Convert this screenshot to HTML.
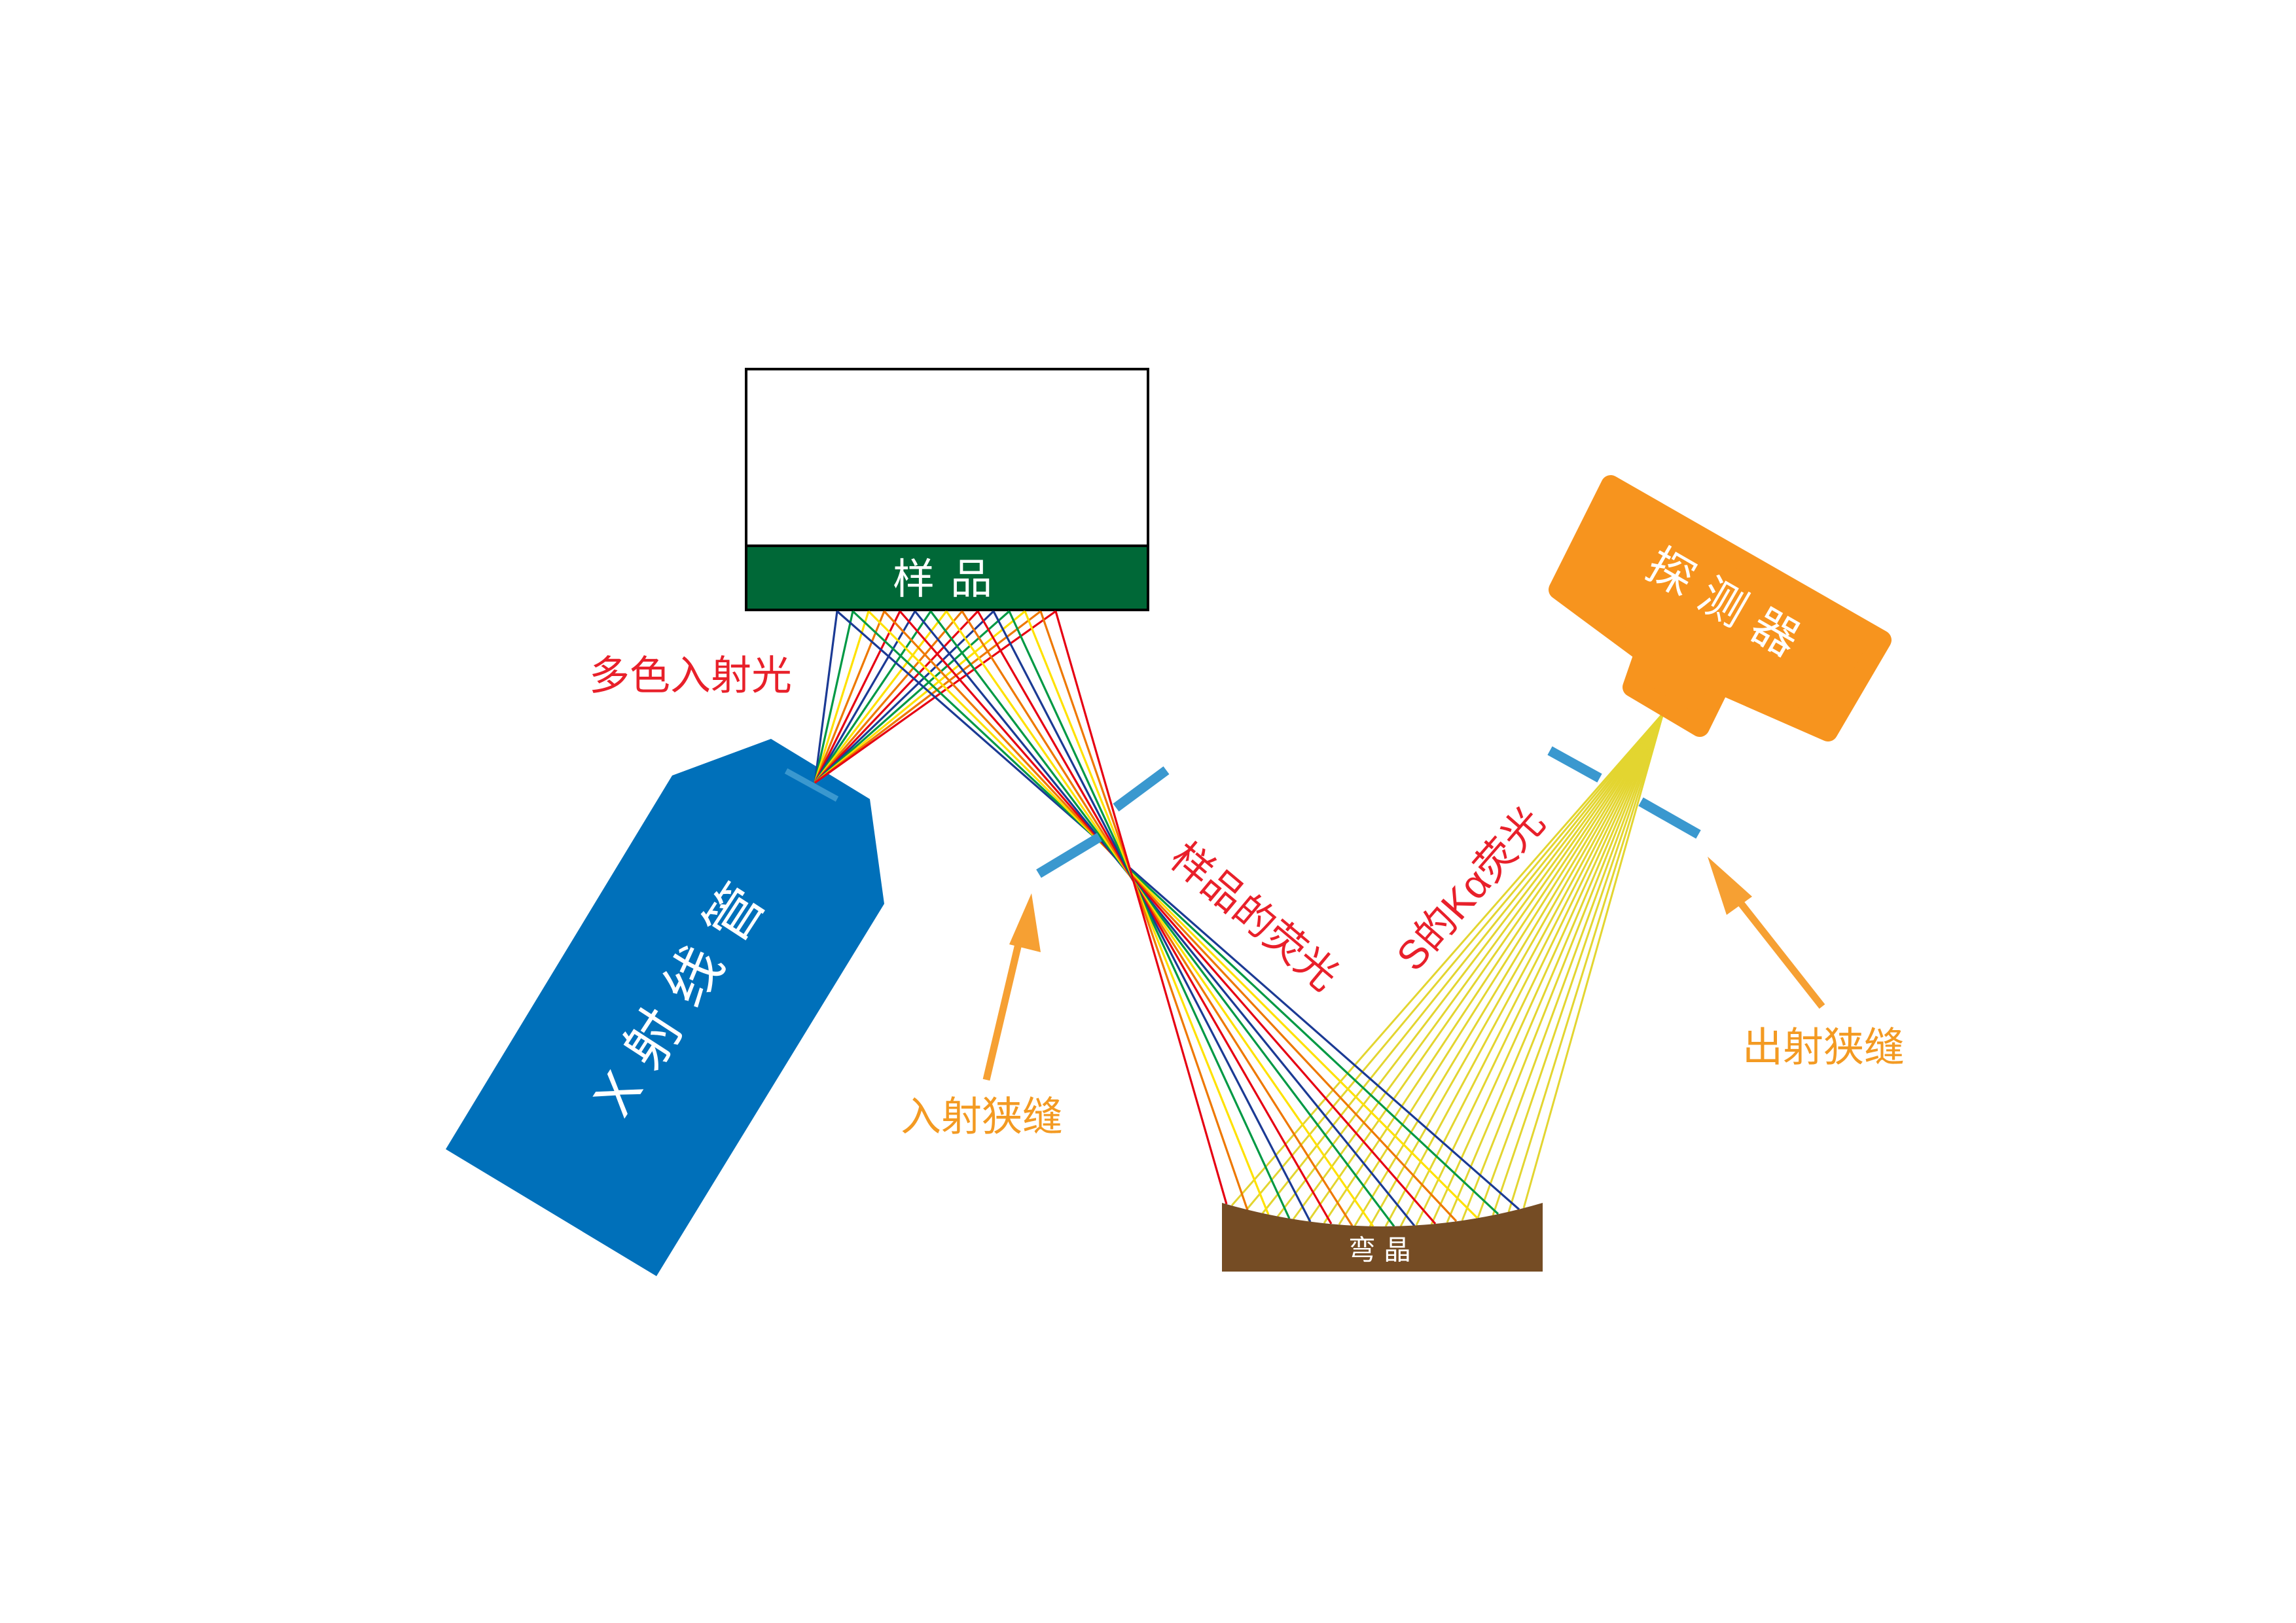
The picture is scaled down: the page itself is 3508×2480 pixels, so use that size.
<!DOCTYPE html>
<html><head><meta charset="utf-8"><style>
html,body{margin:0;padding:0;background:#fff;}
svg{display:block;}
text{font-family:"Liberation Sans","Noto Sans CJK SC",sans-serif;}
</style></head><body>
<svg width="3508" height="2480" viewBox="0 0 3508 2480" xmlns="http://www.w3.org/2000/svg">
<rect width="3508" height="2480" fill="#fff"/>
<!-- X-ray tube -->
<g transform="translate(-7,-7)">
<polygon points="1034,1192 1185,1136 1336,1228 1358,1388 1010,1957 688,1763" fill="#0070BA"/>
<line x1="1208" y1="1185" x2="1286" y2="1228" stroke="#3A98CF" stroke-width="9"/>
<text transform="translate(1052,1523) rotate(-57)" font-size="86" fill="#fff" text-anchor="middle" dominant-baseline="central" letter-spacing="28">X射线管</text>
</g>

<!-- sample -->
<rect x="1140" y="564" width="614" height="368" fill="#fff" stroke="#000" stroke-width="4"/>
<rect x="1140" y="834" width="614" height="98" fill="#006837" stroke="#000" stroke-width="4"/>
<text x="1452" y="885" font-size="64" fill="#fff" text-anchor="middle" dominant-baseline="central" letter-spacing="24">样品</text>

<!-- incident rays -->
<g stroke-width="3.2" fill="none">
<line x1="1279" y1="934" x2="1245" y2="1196" stroke="#1B3A94"/>
<line x1="1303" y1="934" x2="1245" y2="1196" stroke="#009944"/>
<line x1="1327" y1="934" x2="1245" y2="1196" stroke="#FFE100"/>
<line x1="1351" y1="934" x2="1245" y2="1196" stroke="#EE7800"/>
<line x1="1375" y1="934" x2="1245" y2="1196" stroke="#E60012"/>
<line x1="1398" y1="934" x2="1245" y2="1196" stroke="#1B3A94"/>
<line x1="1422" y1="934" x2="1245" y2="1196" stroke="#009944"/>
<line x1="1446" y1="934" x2="1245" y2="1196" stroke="#FFE100"/>
<line x1="1470" y1="934" x2="1245" y2="1196" stroke="#EE7800"/>
<line x1="1494" y1="934" x2="1245" y2="1196" stroke="#E60012"/>
<line x1="1518" y1="934" x2="1245" y2="1196" stroke="#1B3A94"/>
<line x1="1542" y1="934" x2="1245" y2="1196" stroke="#009944"/>
<line x1="1566" y1="934" x2="1245" y2="1196" stroke="#FFE100"/>
<line x1="1590" y1="934" x2="1245" y2="1196" stroke="#EE7800"/>
<line x1="1613" y1="934" x2="1245" y2="1196" stroke="#E60012"/>
</g>

<!-- yellow rays to detector -->
<g stroke="#E3D530" stroke-width="3" fill="none">
<line x1="1882" y1="1842" x2="2541" y2="1090"/>
<line x1="1905" y1="1848" x2="2541" y2="1090"/>
<line x1="1929" y1="1854" x2="2541" y2="1090"/>
<line x1="1952" y1="1859" x2="2541" y2="1090"/>
<line x1="1976" y1="1863" x2="2541" y2="1090"/>
<line x1="1999" y1="1866" x2="2541" y2="1090"/>
<line x1="2023" y1="1869" x2="2541" y2="1090"/>
<line x1="2046" y1="1871" x2="2541" y2="1090"/>
<line x1="2070" y1="1873" x2="2541" y2="1090"/>
<line x1="2093" y1="1874" x2="2541" y2="1090"/>
<line x1="2117" y1="1874" x2="2541" y2="1090"/>
<line x1="2140" y1="1874" x2="2541" y2="1090"/>
<line x1="2164" y1="1872" x2="2541" y2="1090"/>
<line x1="2187" y1="1871" x2="2541" y2="1090"/>
<line x1="2211" y1="1868" x2="2541" y2="1090"/>
<line x1="2234" y1="1865" x2="2541" y2="1090"/>
<line x1="2258" y1="1861" x2="2541" y2="1090"/>
<line x1="2281" y1="1857" x2="2541" y2="1090"/>
<line x1="2305" y1="1852" x2="2541" y2="1090"/>
<line x1="2328" y1="1846" x2="2541" y2="1090"/>
</g>

<!-- fluorescence rays -->
<g stroke-width="3.2" fill="none">
<line x1="1279" y1="934" x2="2321" y2="1848" stroke="#1B3A94"/>
<line x1="1303" y1="934" x2="2289" y2="1855" stroke="#009944"/>
<line x1="1327" y1="934" x2="2257" y2="1861" stroke="#FFE100"/>
<line x1="1351" y1="934" x2="2225" y2="1866" stroke="#EE7800"/>
<line x1="1375" y1="934" x2="2193" y2="1870" stroke="#E60012"/>
<line x1="1398" y1="934" x2="2161" y2="1873" stroke="#1B3A94"/>
<line x1="1422" y1="934" x2="2130" y2="1874" stroke="#009944"/>
<line x1="1446" y1="934" x2="2098" y2="1874" stroke="#FFE100"/>
<line x1="1470" y1="934" x2="2066" y2="1873" stroke="#EE7800"/>
<line x1="1494" y1="934" x2="2034" y2="1870" stroke="#E60012"/>
<line x1="1518" y1="934" x2="2002" y2="1867" stroke="#1B3A94"/>
<line x1="1542" y1="934" x2="1970" y2="1862" stroke="#009944"/>
<line x1="1566" y1="934" x2="1938" y2="1856" stroke="#FFE100"/>
<line x1="1590" y1="934" x2="1906" y2="1849" stroke="#EE7800"/>
<line x1="1613" y1="934" x2="1874" y2="1840" stroke="#E60012"/>
</g>

<!-- crystal -->
<path d="M1867,1838 Q2112,1910 2357,1838 L2357,1943 L1867,1943 Z" fill="#754C24"/>
<text x="2114" y="1910" font-size="42" fill="#fff" text-anchor="middle" dominant-baseline="central" letter-spacing="12">弯晶</text>

<g transform="translate(-7,-7)">
<!-- slits -->
<g stroke="#3A98CF" stroke-width="15">
<line x1="1594" y1="1342" x2="1687" y2="1286"/>
<line x1="1712" y1="1241" x2="1789" y2="1184"/>
<line x1="2375" y1="1154" x2="2451" y2="1196"/>
<line x1="2514" y1="1232" x2="2602" y2="1282"/>
</g>

<!-- detector -->
<polygon points="2468,748 2882,985 2800,1125 2636,1053 2604,1118 2501,1057 2519,1005 2388,908" fill="#F7941E" stroke="#F7941E" stroke-width="30" stroke-linejoin="round"/>
<text transform="translate(2649,933) rotate(30)" font-size="70" fill="#fff" text-anchor="middle" dominant-baseline="central" letter-spacing="22">探测器</text>

<!-- arrows -->
<g stroke="#F6A033" stroke-width="11" fill="#F6A033">
<line x1="1514" y1="1657" x2="1570" y2="1420"/>
<line x1="2791" y1="1545" x2="2643" y2="1357"/>
</g>
<polygon points="1583,1372 1597,1462 1549,1450" fill="#F6A033"/>
<polygon points="2616,1316 2684,1377 2645,1405" fill="#F6A033"/>

<!-- labels -->
<text x="1062" y="1040" font-size="62" fill="#E8202A" text-anchor="middle" dominant-baseline="central">多色入射光</text>
<text transform="translate(1923,1408) rotate(40)" font-size="62" fill="#E8202A" text-anchor="middle" dominant-baseline="central">样品的荧光</text>
<text transform="translate(2254,1366) rotate(-49)" font-size="62" fill="#E8202A" text-anchor="middle" dominant-baseline="central">S的Kα荧光</text>
<text x="1507" y="1714" font-size="62" fill="#F39A22" text-anchor="middle" dominant-baseline="central">入射狭缝</text>
<text x="2793" y="1608" font-size="62" fill="#F39A22" text-anchor="middle" dominant-baseline="central">出射狭缝</text>
</g>
</svg>
</body></html>
